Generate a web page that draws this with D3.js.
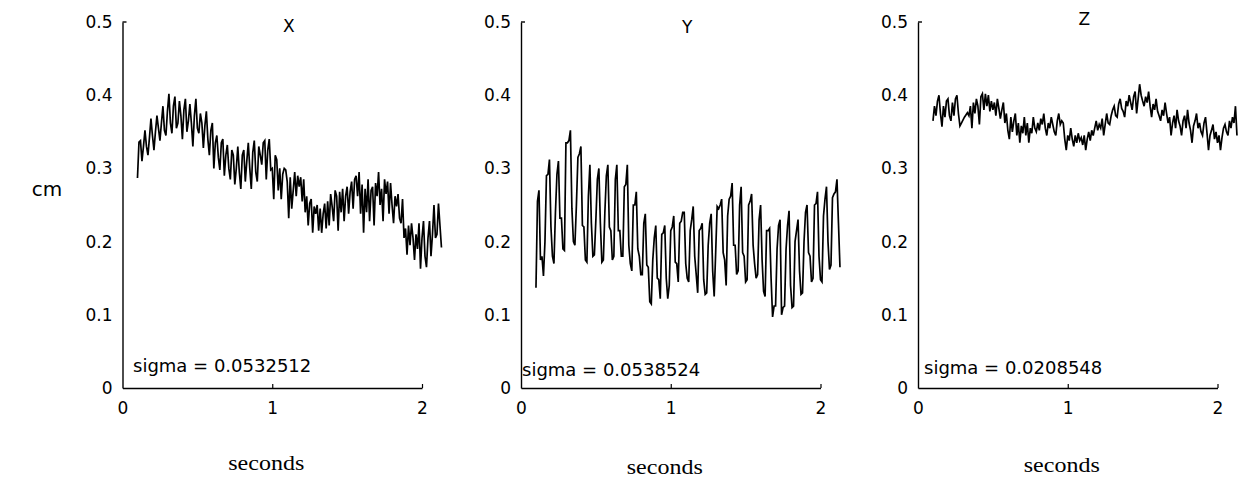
<!DOCTYPE html>
<html>
<head>
<meta charset="utf-8">
<script src="https://cdn.jsdelivr.net/npm/d3@7"></script>
<style>
  html, body { margin: 0; padding: 0; background: #fff; }
  svg { display: block; }
</style>
</head>
<body>
<svg id="chart" width="1241" height="478"></svg>
<script>
// Position jitter of a tracked point, per axis, sampled every 10 ms.
const sampleStart = 0.10;
const sampleStep = 0.01;

const seriesNames = ["X", "Y", "Z"];
const sigmaLabels = ["sigma = 0.0532512", "sigma = 0.0538524", "sigma = 0.0208548"];
const yTicks = [0, 0.1, 0.2, 0.3, 0.4, 0.5];
const xTicks = [0, 1, 2];
const yUnit = "cm";
const xUnit = "seconds";

const xValues = [
  0.287, 0.336, 0.338, 0.310, 0.330, 0.352, 0.330, 0.318, 0.342, 0.368,
  0.345, 0.325, 0.350, 0.372, 0.355, 0.338, 0.362, 0.385, 0.352, 0.345,
  0.378, 0.402, 0.362, 0.348, 0.385, 0.398, 0.355, 0.362, 0.392, 0.372,
  0.340, 0.380, 0.395, 0.350, 0.365, 0.388, 0.362, 0.330, 0.372, 0.395,
  0.355, 0.348, 0.375, 0.362, 0.328, 0.358, 0.378, 0.340, 0.318, 0.352,
  0.362, 0.300, 0.335, 0.345, 0.315, 0.298, 0.335, 0.340, 0.290, 0.318,
  0.332, 0.300, 0.285, 0.325, 0.318, 0.278, 0.300, 0.330, 0.295, 0.272,
  0.318, 0.325, 0.282, 0.310, 0.335, 0.300, 0.272, 0.322, 0.338, 0.295,
  0.282, 0.330, 0.318, 0.305, 0.335, 0.338, 0.285, 0.325, 0.340, 0.298,
  0.300, 0.258, 0.318, 0.312, 0.270, 0.300, 0.258, 0.292, 0.300, 0.298,
  0.282, 0.232, 0.288, 0.245, 0.270, 0.295, 0.262, 0.290, 0.275, 0.288,
  0.255, 0.285, 0.240, 0.262, 0.222, 0.252, 0.258, 0.212, 0.248, 0.238,
  0.250, 0.215, 0.245, 0.212, 0.238, 0.252, 0.218, 0.255, 0.222, 0.265,
  0.248, 0.228, 0.270, 0.262, 0.215, 0.268, 0.240, 0.272, 0.228, 0.262,
  0.275, 0.238, 0.268, 0.282, 0.245, 0.285, 0.290, 0.262, 0.295, 0.238,
  0.278, 0.212, 0.272, 0.240, 0.285, 0.228, 0.270, 0.275, 0.222, 0.280,
  0.262, 0.295, 0.250, 0.272, 0.228, 0.285, 0.265, 0.282, 0.238, 0.280,
  0.250, 0.225, 0.262, 0.248, 0.265, 0.232, 0.225, 0.258, 0.205, 0.218,
  0.182, 0.222, 0.195, 0.225, 0.205, 0.175, 0.210, 0.190, 0.225, 0.163,
  0.205, 0.228, 0.180, 0.165, 0.205, 0.228, 0.180, 0.210, 0.250, 0.205,
  0.210, 0.252, 0.222, 0.192
];

const yValues = [
  0.137, 0.255, 0.270, 0.175, 0.180, 0.153, 0.200, 0.290, 0.292, 0.312,
  0.220, 0.180, 0.170, 0.240, 0.292, 0.310, 0.232, 0.232, 0.190, 0.188,
  0.335, 0.335, 0.338, 0.352, 0.245, 0.200, 0.195, 0.250, 0.315, 0.320,
  0.330, 0.222, 0.220, 0.175, 0.172, 0.262, 0.305, 0.225, 0.180, 0.182,
  0.230, 0.285, 0.300, 0.225, 0.172, 0.175, 0.240, 0.290, 0.305, 0.220,
  0.215, 0.175, 0.180, 0.285, 0.305, 0.215, 0.215, 0.180, 0.180, 0.275,
  0.278, 0.305, 0.195, 0.170, 0.160, 0.250, 0.250, 0.268, 0.190, 0.180,
  0.155, 0.155, 0.225, 0.238, 0.168, 0.165, 0.118, 0.115, 0.175, 0.205,
  0.222, 0.150, 0.148, 0.122, 0.210, 0.212, 0.222, 0.150, 0.122, 0.140,
  0.215, 0.220, 0.235, 0.172, 0.170, 0.145, 0.225, 0.228, 0.240, 0.240,
  0.170, 0.150, 0.145, 0.215, 0.230, 0.248, 0.180, 0.155, 0.130, 0.215,
  0.218, 0.225, 0.148, 0.128, 0.130, 0.195, 0.225, 0.238, 0.160, 0.125,
  0.185, 0.248, 0.245, 0.250, 0.258, 0.185, 0.175, 0.140, 0.235, 0.258,
  0.262, 0.280, 0.195, 0.195, 0.155, 0.160, 0.250, 0.275, 0.185, 0.180,
  0.145, 0.148, 0.250, 0.255, 0.265, 0.195, 0.170, 0.150, 0.155, 0.230,
  0.250, 0.175, 0.132, 0.125, 0.215, 0.215, 0.218, 0.150, 0.097, 0.112,
  0.112, 0.190, 0.222, 0.230, 0.100, 0.110, 0.112, 0.190, 0.222, 0.242,
  0.140, 0.110, 0.112, 0.200, 0.215, 0.230, 0.160, 0.128, 0.130, 0.200,
  0.240, 0.250, 0.185, 0.180, 0.145, 0.150, 0.250, 0.252, 0.268, 0.180,
  0.148, 0.145, 0.235, 0.258, 0.275, 0.200, 0.162, 0.168, 0.260, 0.265,
  0.268, 0.285, 0.225, 0.165
];

const zValues = [
  0.365, 0.385, 0.372, 0.392, 0.400, 0.375, 0.357, 0.385, 0.370, 0.392,
  0.395, 0.372, 0.365, 0.390, 0.372, 0.395, 0.400, 0.375, 0.358, 0.362,
  0.366, 0.370, 0.373, 0.376, 0.372, 0.385, 0.355, 0.390, 0.375, 0.395,
  0.385, 0.360, 0.398, 0.402, 0.380, 0.402, 0.385, 0.400, 0.378, 0.392,
  0.380, 0.390, 0.372, 0.395, 0.382, 0.368, 0.380, 0.390, 0.362, 0.375,
  0.352, 0.340, 0.370, 0.350, 0.365, 0.375, 0.345, 0.362, 0.335, 0.358,
  0.348, 0.370, 0.345, 0.362, 0.335, 0.355, 0.348, 0.370, 0.355, 0.350,
  0.362, 0.352, 0.368, 0.360, 0.375, 0.355, 0.345, 0.362, 0.355, 0.370,
  0.360, 0.350, 0.345, 0.365, 0.375, 0.360, 0.365, 0.362, 0.340, 0.325,
  0.345, 0.338, 0.355, 0.340, 0.330, 0.345, 0.335, 0.348, 0.338, 0.342,
  0.332, 0.345, 0.325, 0.340, 0.350, 0.338, 0.352, 0.345, 0.355, 0.365,
  0.352, 0.360, 0.355, 0.368, 0.345, 0.360, 0.375, 0.362, 0.360, 0.372,
  0.380, 0.385, 0.372, 0.370, 0.388, 0.395, 0.382, 0.378, 0.370, 0.392,
  0.385, 0.400, 0.390, 0.380, 0.398, 0.405, 0.375, 0.395, 0.415, 0.400,
  0.392, 0.385, 0.398, 0.390, 0.405, 0.385, 0.370, 0.388, 0.380, 0.395,
  0.378, 0.372, 0.365, 0.380, 0.372, 0.390, 0.375, 0.362, 0.370, 0.345,
  0.362, 0.372, 0.355, 0.380, 0.365, 0.358, 0.345, 0.365, 0.372, 0.355,
  0.380, 0.362, 0.352, 0.335, 0.358, 0.365, 0.375, 0.355, 0.362, 0.350,
  0.345, 0.362, 0.370, 0.348, 0.325, 0.345, 0.352, 0.360, 0.340, 0.350,
  0.335, 0.345, 0.325, 0.342, 0.355, 0.360, 0.350, 0.345, 0.365, 0.355,
  0.370, 0.362, 0.385, 0.345
];

const allSeries = [xValues, yValues, zValues];

// Panel geometry: left edge of each plot (t = 0), shared vertical extent.
const panelLeft = [122.5, 521, 918];
const panelSpan = 299.5;       // pixels for 0..2 s
const plotTop = 22, plotBottom = 388;
const titleY = [27, 28, 20];
const sigmaPos = [[133, 372], [522, 376], [924, 374]];
const unitY = [470, 474, 472];

const svg = d3.select("#chart");
const sans = "'DejaVu Sans', Verdana, sans-serif";
const serif = "'Liberation Serif', 'Times New Roman', serif";

const yScale = d3.scaleLinear().domain([0, 0.5]).range([plotBottom, plotTop]);

seriesNames.forEach((name, k) => {
  const values = allSeries[k];
  const x = d3.scaleLinear().domain([0, 2]).range([panelLeft[k], panelLeft[k] + panelSpan]);
  const g = svg.append("g");

  // x axis: baseline with short inward ticks
  const xAxis = d3.axisBottom(x).tickValues(xTicks).tickFormat(d3.format("d"))
    .tickSizeInner(-4).tickSizeOuter(0).tickPadding(14);
  const gx = g.append("g").attr("transform", `translate(0,${plotBottom})`).call(xAxis);
  gx.select(".domain").attr("stroke", "#000").attr("stroke-width", 1.4);
  gx.selectAll(".tick line").attr("stroke", "#000").attr("stroke-width", 1.2)
    .attr("display", d => d === 0 ? "none" : null);
  gx.selectAll(".tick text").attr("font-family", sans).attr("font-size", 17).attr("fill", "#000");

  // y axis: vertical rule with a cap at the top, labels only
  const yAxis = d3.axisLeft(yScale).tickValues(yTicks)
    .tickFormat(d => d === 0 ? "0" : d3.format(".1f")(d))
    .tickSizeInner(0).tickSizeOuter(0).tickPadding(10);
  const gy = g.append("g").attr("transform", `translate(${panelLeft[k]},0)`).call(yAxis);
  gy.select(".domain").attr("stroke", "#000").attr("stroke-width", 1.4);
  gy.selectAll(".tick text").attr("font-family", sans).attr("font-size", 17).attr("fill", "#000");
  g.append("line")
    .attr("x1", panelLeft[k]).attr("x2", panelLeft[k] + 4)
    .attr("y1", yScale(0.5)).attr("y2", yScale(0.5))
    .attr("stroke", "#000").attr("stroke-width", 1.4);

  // trace
  const line = d3.line()
    .x((v, i) => x(sampleStart + i * sampleStep))
    .y(v => yScale(v));
  g.append("path").datum(values)
    .attr("d", line)
    .attr("fill", "none")
    .attr("stroke", "#000")
    .attr("stroke-width", 1.7)
    .attr("stroke-linejoin", "miter");

  // title
  g.append("text").attr("x", x(1.11)).attr("y", titleY[k])
    .attr("text-anchor", "middle").attr("dominant-baseline", "middle")
    .attr("font-family", sans).attr("font-size", 17).text(name);

  // sigma annotation
  g.append("text").attr("x", sigmaPos[k][0]).attr("y", sigmaPos[k][1])
    .attr("font-family", sans).attr("font-size", 18).text(sigmaLabels[k]);

  // x unit label
  g.append("text").attr("x", x(0.96)).attr("y", unitY[k])
    .attr("text-anchor", "middle")
    .attr("font-family", serif).attr("font-size", 21)
    .attr("textLength", 76).attr("lengthAdjust", "spacingAndGlyphs")
    .text(xUnit);
});

// y unit label
svg.append("text").attr("x", 47).attr("y", 196)
  .attr("text-anchor", "middle")
  .attr("font-family", sans).attr("font-size", 20).text(yUnit);
</script>
</body>
</html>
